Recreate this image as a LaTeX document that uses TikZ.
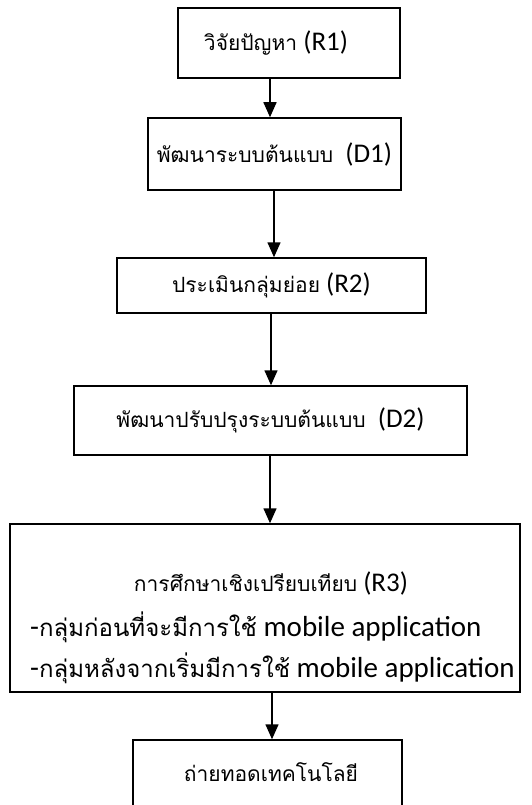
\documentclass[tikz,border=0pt]{standalone}
\usepackage{fontspec}
\setmainfont{Carlito}
\newfontfamily\thaifont[Script=Thai]{Loma}
\usetikzlibrary{arrows.meta}

\newcommand{\thtxt}[1]{{\thaifont\fontsize{21}{25}\selectfont #1}}
\newcommand{\thbig}[1]{{\thaifont\fontsize{24}{30}\selectfont #1}}

\tikzset{
    stepbox/.style={draw, line width=1.5pt, inner sep=0pt,
        font=\fontsize{27}{30}\selectfont},
    flow/.style={line width=1.5pt, -{Triangle[width=13pt,length=15pt]}},
    linetxt/.style={anchor=west, inner sep=0pt, font=\fontsize{29}{30}\selectfont},
}

\begin{document}
\begin{tikzpicture}[x=1pt, y=-1pt]

    \clip (0,0) rectangle (531,805);

    \node[stepbox, minimum width=222pt, minimum height=70pt] (r1) at (289, 43)
        {\thtxt{วิจัยปัญหา} (R1)\kern26pt};
    \node[stepbox, minimum width=253pt, minimum height=72pt] (d1) at (274.5, 154)
        {\thtxt{พัฒนาระบบต้นแบบ}\ \ (D1)};
    \node[stepbox, minimum width=309pt, minimum height=55pt] (r2) at (271.5, 285.5)
        {\thtxt{ประเมินกลุ่มย่อย} (R2)};
    \node[stepbox, minimum width=393pt, minimum height=69pt] (d2) at (270.5, 420.5)
        {\thtxt{พัฒนาปรับปรุงระบบต้นแบบ}\ \ (D2)};
    \node[stepbox, minimum width=510pt, minimum height=168pt] (r3) at (265, 608) {};
    \node[stepbox, minimum width=269pt, minimum height=100pt] (tt) at (267.5, 790) {};

    \node[inner sep=0pt, font=\fontsize{27}{30}\selectfont] (r3a) at (271, 583)
        {\thtxt{การศึกษาเชิงเปรียบเทียบ} (R3)};
    \node[linetxt] (r3b) at (30, 627) {-\thbig{กลุ่มก่อนที่จะมีการใช้} mobile application};
    \node[linetxt] (r3c) at (30, 668) {-\thbig{กลุ่มหลังจากเริ่มมีการใช้} mobile application};
    \node[inner sep=0pt] (tta) at (271, 772) {\thtxt{ถ่ายทอดเทคโนโลยี}};

    \foreach \a/\b/\x in {r1/d1/270, d1/r2/274, r2/d2/271, d2/r3/270, r3/tt/272} {
        \path (\x, 0) coordinate (ax);
        \draw[flow] (\a.south -| ax) -- (\b.north -| ax);
    }

\end{tikzpicture}
\end{document}
